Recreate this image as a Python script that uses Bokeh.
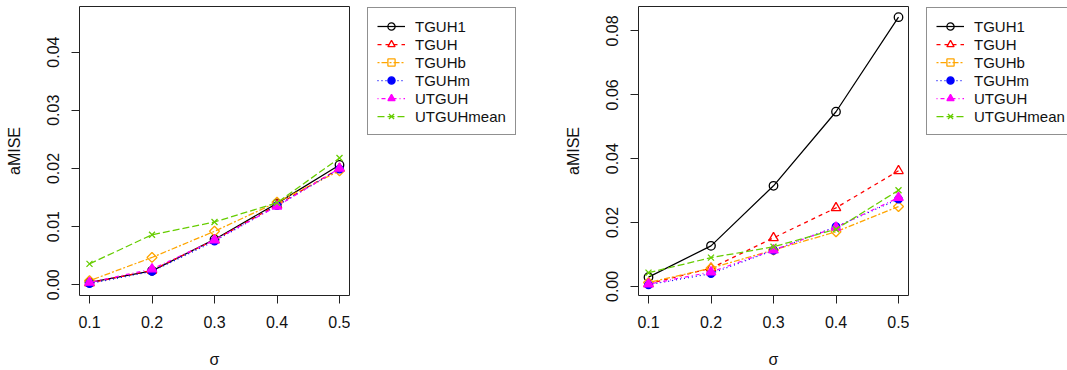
import numpy as np
from bokeh.plotting import figure
from bokeh.models import Range1d, FixedTicker, PrintfTickFormatter, Legend, LegendItem
from bokeh.layouts import row
from bokeh.embed import file_html
from bokeh.resources import INLINE

# ---------------- data ----------------
sigma = [0.1, 0.2, 0.3, 0.4, 0.5]
methods = ["TGUH1", "TGUH", "TGUHb", "TGUHm", "UTGUH", "UTGUHmean"]

left_TGUH1 = [0.0004, 0.0024, 0.0078, 0.0140, 0.0206]
left_TGUH = [0.0003, 0.0025, 0.0077, 0.0137, 0.0200]
left_TGUHb = [0.0007, 0.0047, 0.0092, 0.0142, 0.0196]
left_TGUHm = [0.0002, 0.0023, 0.0075, 0.0136, 0.0199]
left_UTGUH = [0.0004, 0.0027, 0.0077, 0.0135, 0.0200]
left_UTGUHmean = [0.0036, 0.0086, 0.0108, 0.0141, 0.0218]

right_TGUH1 = [0.0029, 0.0127, 0.0315, 0.0547, 0.0843]
right_TGUH = [0.0008, 0.0057, 0.0152, 0.0246, 0.0362]
right_TGUHb = [0.0012, 0.0057, 0.0114, 0.0171, 0.0250]
right_TGUHm = [0.0005, 0.0040, 0.0113, 0.0187, 0.0273]
right_UTGUH = [0.0007, 0.0045, 0.0114, 0.0185, 0.0278]
right_UTGUHmean = [0.0043, 0.0090, 0.0124, 0.0179, 0.0301]

left_ylim = [0.0, 0.046]
x_ticks = [0.1, 0.2, 0.3, 0.4, 0.5]
left_y_ticks = [0.00, 0.01, 0.02, 0.03, 0.04]
right_y_ticks = [0.00, 0.02, 0.04, 0.06, 0.08]
x_label = "σ"
y_label = "aMISE"

left_series = [left_TGUH1, left_TGUH, left_TGUHb, left_TGUHm, left_UTGUH, left_UTGUHmean]
right_series = [right_TGUH1, right_TGUH, right_TGUHb, right_TGUHm, right_UTGUH, right_UTGUHmean]

# ---------------- styles ----------------
colors = ["#000000", "#FF0000", "#FFA500", "#0000FF", "#FF00FF", "#66CD00"]
dashes = ["solid", "4 4", "2 2 6 2", "1 3", "1 3 4 3", "7 3"]
markers = ["circle", "triangle", "square", "circle", "triangle", "x"]
marker_sizes = [8.5, 9.5, 7, 7.5, 9.5, 8.5]
marker_fill = [None, None, None, "#0000FF", "#FF00FF", None]
marker_angle = [0, 0, np.pi / 4, 0, 0, 0]
FONT = "Liberation Sans"
H = 370


def padded(lo, hi):
    d = (hi - lo) * 0.04
    return lo - d, hi + d


def draw_series(p, xs, series):
    out = []
    for ys, c, d, m, ms, mf, ma in zip(series, colors, dashes, markers, marker_sizes,
                                        marker_fill, marker_angle):
        lr = p.line(xs, ys, line_color=c, line_dash=d, line_width=1.25)
        sr = p.scatter(xs, ys, marker=m, size=ms, line_color=c, line_width=1.3,
                       fill_color=mf, angle=ma)
        out.append((lr, sr))
    return out


def make_panel(series, ylim, yticks):
    x0, x1 = padded(min(sigma), max(sigma))
    y0, y1 = padded(*ylim)
    p = figure(width=350, height=H, output_backend="svg", toolbar_location=None,
               x_range=Range1d(x0, x1), y_range=Range1d(y0, y1),
               min_border_left=79, min_border_right=1,
               min_border_top=6, min_border_bottom=74)
    p.grid.visible = False
    p.outline_line_color = "#222222"
    p.outline_line_width = 1
    p.background_fill_color = "white"
    p.border_fill_color = "white"

    for ax in (p.xaxis[0], p.yaxis[0]):
        ax.axis_line_color = None
        ax.major_tick_out = 8
        ax.major_tick_in = 0
        ax.minor_tick_line_color = None
        ax.major_tick_line_color = "#222222"
        ax.major_label_text_font = FONT
        ax.major_label_text_font_size = "16px"
        ax.major_label_text_color = "#111111"
        ax.axis_label_text_font = FONT
        ax.axis_label_text_font_size = "16px"
        ax.axis_label_text_font_style = "normal"
        ax.axis_label_text_color = "#111111"
        ax.major_label_standoff = 12

    p.xaxis[0].ticker = FixedTicker(ticks=x_ticks)
    p.xaxis[0].formatter = PrintfTickFormatter(format="%.1f")
    p.xaxis[0].axis_label = x_label
    p.xaxis[0].axis_label_standoff = 20
    p.yaxis[0].ticker = FixedTicker(ticks=yticks)
    p.yaxis[0].formatter = PrintfTickFormatter(format="%.2f")
    p.yaxis[0].major_label_orientation = "vertical"
    p.yaxis[0].axis_label = y_label
    p.yaxis[0].axis_label_standoff = 22

    draw_series(p, sigma, series)
    return p


def make_legend_fig(width, series):
    # legend-only panel: same series drawn off-screen, only the legend is visible
    lf = figure(width=width, height=H, output_backend="svg", toolbar_location=None,
                x_range=Range1d(10, 11), y_range=Range1d(10, 11),
                x_axis_type=None, y_axis_type=None,
                min_border_left=0, min_border_right=0, min_border_top=0, min_border_bottom=0)
    lf.grid.visible = False
    lf.outline_line_color = None
    lf.background_fill_color = "white"
    lf.border_fill_color = "white"
    rends = draw_series(lf, sigma, series)
    items = [LegendItem(label=name, renderers=[lr, sr]) for name, (lr, sr) in zip(methods, rends)]
    legend = Legend(items=items, location=(17, 160), orientation="vertical")
    legend.label_text_font = FONT
    legend.label_text_font_size = "15px"
    legend.label_text_color = "#111111"
    legend.glyph_width = 28
    legend.glyph_height = 18
    legend.label_height = 18
    legend.spacing = 0
    legend.padding = 9
    legend.margin = 0
    legend.label_standoff = 10
    legend.border_line_color = "#222222"
    legend.border_line_width = 1
    legend.background_fill_alpha = 1
    lf.add_layout(legend, "center")
    return lf


all_right = [v for s in right_series for v in s]
p1 = make_panel(left_series, left_ylim, left_y_ticks)
l1 = make_legend_fig(209, left_series)
p2 = make_panel(right_series, [min(all_right), max(all_right)], right_y_ticks)
l2 = make_legend_fig(158, right_series)

layout = row(p1, l1, p2, l2)
open("out.html", "w").write(file_html(layout, INLINE))
